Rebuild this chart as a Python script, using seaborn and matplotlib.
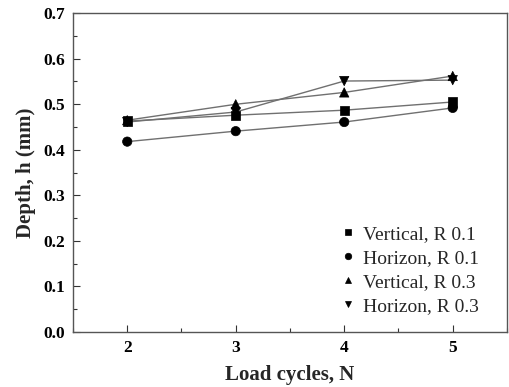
import matplotlib
matplotlib.use("Agg")
import matplotlib.pyplot as plt
import seaborn as sns
import pandas as pd
from matplotlib.ticker import MultipleLocator

cycles = [2, 3, 4, 5]
series_names = ["Vertical, R 0.1", "Horizon, R 0.1", "Vertical, R 0.3", "Horizon, R 0.3"]
vert_r01 = [0.463, 0.476, 0.487, 0.505]
horz_r01 = [0.418, 0.441, 0.461, 0.492]
vert_r03 = [0.465, 0.500, 0.526, 0.562]
horz_r03 = [0.461, 0.483, 0.551, 0.553]

rows = []
for name, vals in zip(series_names, [vert_r01, horz_r01, vert_r03, horz_r03]):
    for c, v in zip(cycles, vals):
        rows.append({"N": c, "h": v, "series": name})
df = pd.DataFrame(rows)

sns.set_style("ticks")
plt.rcParams["font.family"] = ["Liberation Serif", "DejaVu Serif"]

fig = plt.figure(figsize=(5.09, 3.87), dpi=100)
ax = fig.add_axes([0.1434, 0.142, 0.8526, 0.824])

markers = {"Vertical, R 0.1": "s", "Horizon, R 0.1": "o",
           "Vertical, R 0.3": "^", "Horizon, R 0.3": "v"}

for name in series_names:
    sub = df[df.series == name]
    sns.lineplot(data=sub, x="N", y="h", ax=ax, color="#707070", linewidth=1.0,
                 legend=False, zorder=2)
sns.scatterplot(data=df, x="N", y="h", style="series", markers=markers,
                style_order=series_names, color="black", s=45, edgecolor="black",
                linewidth=0.5, ax=ax, zorder=3)

ax.set_xlim(1.5, 5.5)
ax.set_ylim(0.0, 0.7)
ax.xaxis.set_major_locator(MultipleLocator(1))
ax.xaxis.set_minor_locator(MultipleLocator(0.5))
ax.yaxis.set_major_locator(MultipleLocator(0.1))
ax.yaxis.set_minor_locator(MultipleLocator(0.05))
ax.tick_params(which="both", direction="in", top=False, right=False, colors="#333333")
ax.tick_params(which="major", length=5, width=0.8, labelsize=12.5, labelcolor="black", pad=6)
ax.tick_params(which="minor", length=3, width=0.8)
ax.yaxis.set_major_formatter(matplotlib.ticker.FormatStrFormatter("%.1f"))
for lab in ax.get_xticklabels() + ax.get_yticklabels():
    lab.set_fontweight("bold")
for sp in ax.spines.values():
    sp.set_color("#555555")
    sp.set_linewidth(1.0)

ax.set_xlabel("Load cycles, N", fontsize=15, fontweight="bold", labelpad=6)
ax.set_ylabel("Depth, h (mm)", fontsize=15, fontweight="bold", labelpad=5)

leg = ax.legend(loc="lower right", frameon=False, fontsize=14, markerscale=0.7,
                handletextpad=-0.2, labelspacing=0.32, borderaxespad=0.0,
                bbox_to_anchor=(0.954, 0.03))

fig.savefig("out.png", dpi=100)
